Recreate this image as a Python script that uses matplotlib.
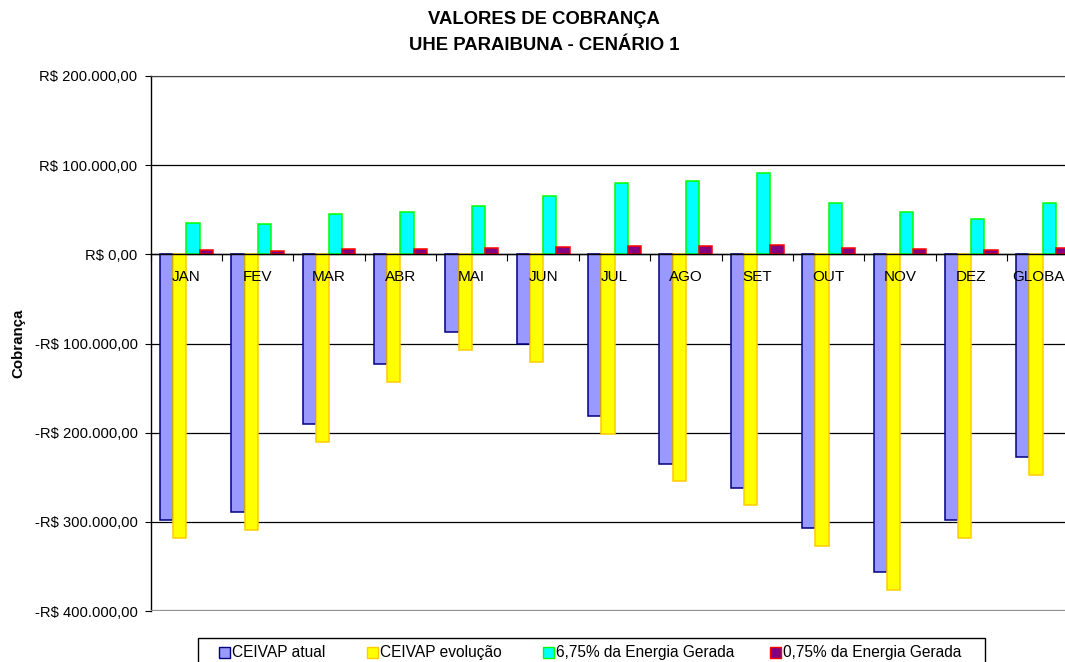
import numpy as np
import matplotlib
matplotlib.use('Agg')
import matplotlib.pyplot as plt
from matplotlib.patches import Rectangle
from matplotlib.ticker import FuncFormatter, MultipleLocator

plt.rcParams['font.family'] = ['Liberation Sans', 'DejaVu Sans']

# data (R$)
meses = ['JAN', 'FEV', 'MAR', 'ABR', 'MAI', 'JUN', 'JUL', 'AGO', 'SET', 'OUT', 'NOV', 'DEZ', 'GLOBAL']
ceivap_atual = [-298000, -289500, -190500, -123000, -87400, -101000, -181500, -235000, -262000, -307000, -356500, -298000, -227500]
ceivap_evolucao = [-318000, -309000, -210000, -143000, -106800, -120700, -201000, -254600, -281500, -327000, -376000, -318000, -247000]
energia_675 = [34700, 34400, 44800, 47000, 54600, 65000, 80300, 82600, 91600, 58000, 47900, 39600, 57200]
energia_075 = [4500, 4100, 5600, 6400, 6700, 7800, 9700, 9700, 10800, 7100, 6000, 5200, 7100]

series = [
    ('CEIVAP atual', ceivap_atual, '#9999FF', '#000080'),
    ('CEIVAP evolução', ceivap_evolucao, '#FFFF00', '#FFCC00'),
    ('6,75% da Energia Gerada', energia_675, '#00FFFF', '#00FF00'),
    ('0,75% da Energia Gerada', energia_075, '#800080', '#FF0000'),
]

W, H = 1065, 662
fig = plt.figure(figsize=(W / 100, H / 100), dpi=100)
ax = fig.add_axes([0.1415, 0.0770, 0.871, 0.8082])

x = np.arange(len(meses)) + 0.5
w = 0.185
for k, (nome, vals, face, edge) in enumerate(series):
    ax.bar(x + (k - 1.5) * w, vals, w, color=face, edgecolor=edge, linewidth=1.1, label=nome)

ax.set_xlim(0, len(meses))
ax.set_ylim(-400000, 200000)
ax.yaxis.set_major_locator(MultipleLocator(100000))


def reais(v, pos):
    s = '{:,.2f}'.format(abs(v)).replace(',', 'X').replace('.', ',').replace('X', '.')
    return ('-R$ ' if v < 0 else 'R$ ') + s


ax.yaxis.set_major_formatter(FuncFormatter(reais))
ax.yaxis.grid(True, color='black', linewidth=0.9)
ax.set_axisbelow(True)
ax.xaxis.set_zorder(4)  # category labels drawn over the bars
ax.tick_params(axis='y', labelsize=10.6, length=4, width=0.8, pad=5.5)

# category axis at zero
ax.spines['bottom'].set_position(('data', 0))
ax.spines['bottom'].set_linewidth(1.0)
ax.spines['top'].set_color('#404040')
ax.spines['right'].set_visible(False)
ax.spines['left'].set_linewidth(1.0)
ax.set_xticks(x)
ax.set_xticklabels(meses)
ax.set_xticks(np.arange(len(meses) + 1), minor=True)
ax.tick_params(axis='x', which='major', length=0, labelsize=11, pad=11)
ax.tick_params(axis='x', which='minor', length=5, width=0.8)
ax.axhline(-400000, color='#909090', linewidth=1.6, zorder=3)

fig.text(0.511, 0.970, 'VALORES DE COBRANÇA', ha='center', va='center', fontsize=13.3, fontweight='bold')
fig.text(0.511, 0.932, 'UHE PARAIBUNA - CENÁRIO 1', ha='center', va='center', fontsize=13.3, fontweight='bold')
fig.text(0.017, 0.481, 'Cobrança', rotation=90, ha='center', va='center', fontsize=10.8, fontweight='bold')

# legend box, laid out like the original (Excel spacing)
fig.patches.append(Rectangle((198 / W, 1 - 666 / H), (985 - 198) / W, 28 / H, transform=fig.transFigure,
                             facecolor='white', edgecolor='black', linewidth=1.0))
leg_x = [219, 367, 543, 770]
for px, (nome, vals, face, edge) in zip(leg_x, series):
    fig.patches.append(Rectangle((px / W, 1 - 658 / H), 11 / W, 11 / H, transform=fig.transFigure,
                                 facecolor=face, edgecolor=edge, linewidth=1.0))
    fig.text((px + 13) / W, 1 - 652.5 / H, nome, ha='left', va='center', fontsize=11.2)

fig.savefig('out.png', dpi=100)
